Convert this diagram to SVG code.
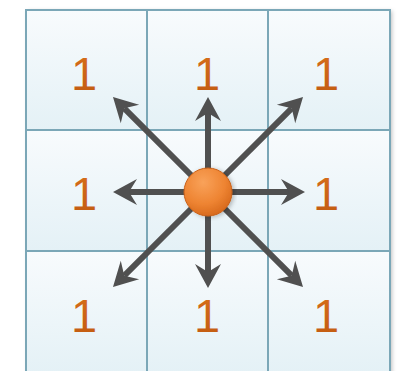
<svg xmlns="http://www.w3.org/2000/svg" width="398" height="371" viewBox="0 0 398 371">
<defs>
<linearGradient id="cell" x1="0" y1="0" x2="0" y2="1">
<stop offset="0" stop-color="#f8fbfd"/>
<stop offset="1" stop-color="#e4f1f6"/>
</linearGradient>
<radialGradient id="ball" cx="0.4" cy="0.3" r="0.75">
<stop offset="0" stop-color="#f9a25a"/>
<stop offset="0.6" stop-color="#ee8432"/>
<stop offset="1" stop-color="#d5661a"/>
</radialGradient>
<linearGradient id="num" x1="0" y1="0" x2="0" y2="1">
<stop offset="0" stop-color="#d9701a"/>
<stop offset="1" stop-color="#c05a10"/>
</linearGradient>
<marker id="ah" markerWidth="30" markerHeight="30" refX="0" refY="0" orient="auto" markerUnits="userSpaceOnUse" style="overflow:visible">
<path d="M16,0 L-8,-13 L0,0 L-8,13 Z" fill="#505050"/>
</marker>
<filter id="sh" x="-10%" y="-10%" width="120%" height="120%">
<feDropShadow dx="2" dy="1" stdDeviation="2" flood-color="#000" flood-opacity="0.25"/>
</filter>
</defs>
<style>
.cell{fill:url(#cell);stroke:#7ba7b7;stroke-width:2}
.n{font-family:"Liberation Sans",Arial,sans-serif;font-size:47px;fill:url(#num);text-anchor:middle}
.a{stroke:#505050;stroke-width:6;fill:none;marker-end:url(#ah)}
</style>
<rect x="26" y="10" width="364" height="364" fill="#e9f3f7" filter="url(#sh)"/>
<g id="cells">
<g id="c00"><rect class="cell" x="26" y="10" width="121" height="120"/><text class="n" x="84" y="90">1</text></g>
<g id="c01"><rect class="cell" x="147" y="10" width="121" height="120"/><text class="n" x="207" y="90">1</text></g>
<g id="c02"><rect class="cell" x="268" y="10" width="122" height="120"/><text class="n" x="326" y="90">1</text></g>
<g id="c10"><rect class="cell" x="26" y="130" width="121" height="121"/><text class="n" x="84" y="210">1</text></g>
<g id="c11"><rect class="cell" x="147" y="130" width="121" height="121"/></g>
<g id="c12"><rect class="cell" x="268" y="130" width="122" height="121"/><text class="n" x="326" y="210">1</text></g>
<g id="c20"><rect class="cell" x="26" y="251" width="121" height="122"/><text class="n" x="84" y="332">1</text></g>
<g id="c21"><rect class="cell" x="147" y="251" width="121" height="122"/><text class="n" x="207" y="332">1</text></g>
<g id="c22"><rect class="cell" x="268" y="251" width="122" height="122"/><text class="n" x="326" y="332">1</text></g>
</g>
<g id="connectors">
<line class="a" x1="208" y1="192" x2="124.3" y2="108.3"/>
<line class="a" x1="208" y1="192" x2="208" y2="113"/>
<line class="a" x1="208" y1="192" x2="291.7" y2="108.3"/>
<line class="a" x1="208" y1="192" x2="129" y2="192"/>
<line class="a" x1="208" y1="192" x2="289" y2="192"/>
<line class="a" x1="208" y1="192" x2="124.3" y2="275.7"/>
<line class="a" x1="208" y1="192" x2="208" y2="272"/>
<line class="a" x1="208" y1="192" x2="291.7" y2="275.7"/>
</g>
<g id="center">
<circle cx="208" cy="192" r="24" fill="url(#ball)" stroke="#c9621a" stroke-width="1" filter="url(#sh)"/>
</g>
</svg>
